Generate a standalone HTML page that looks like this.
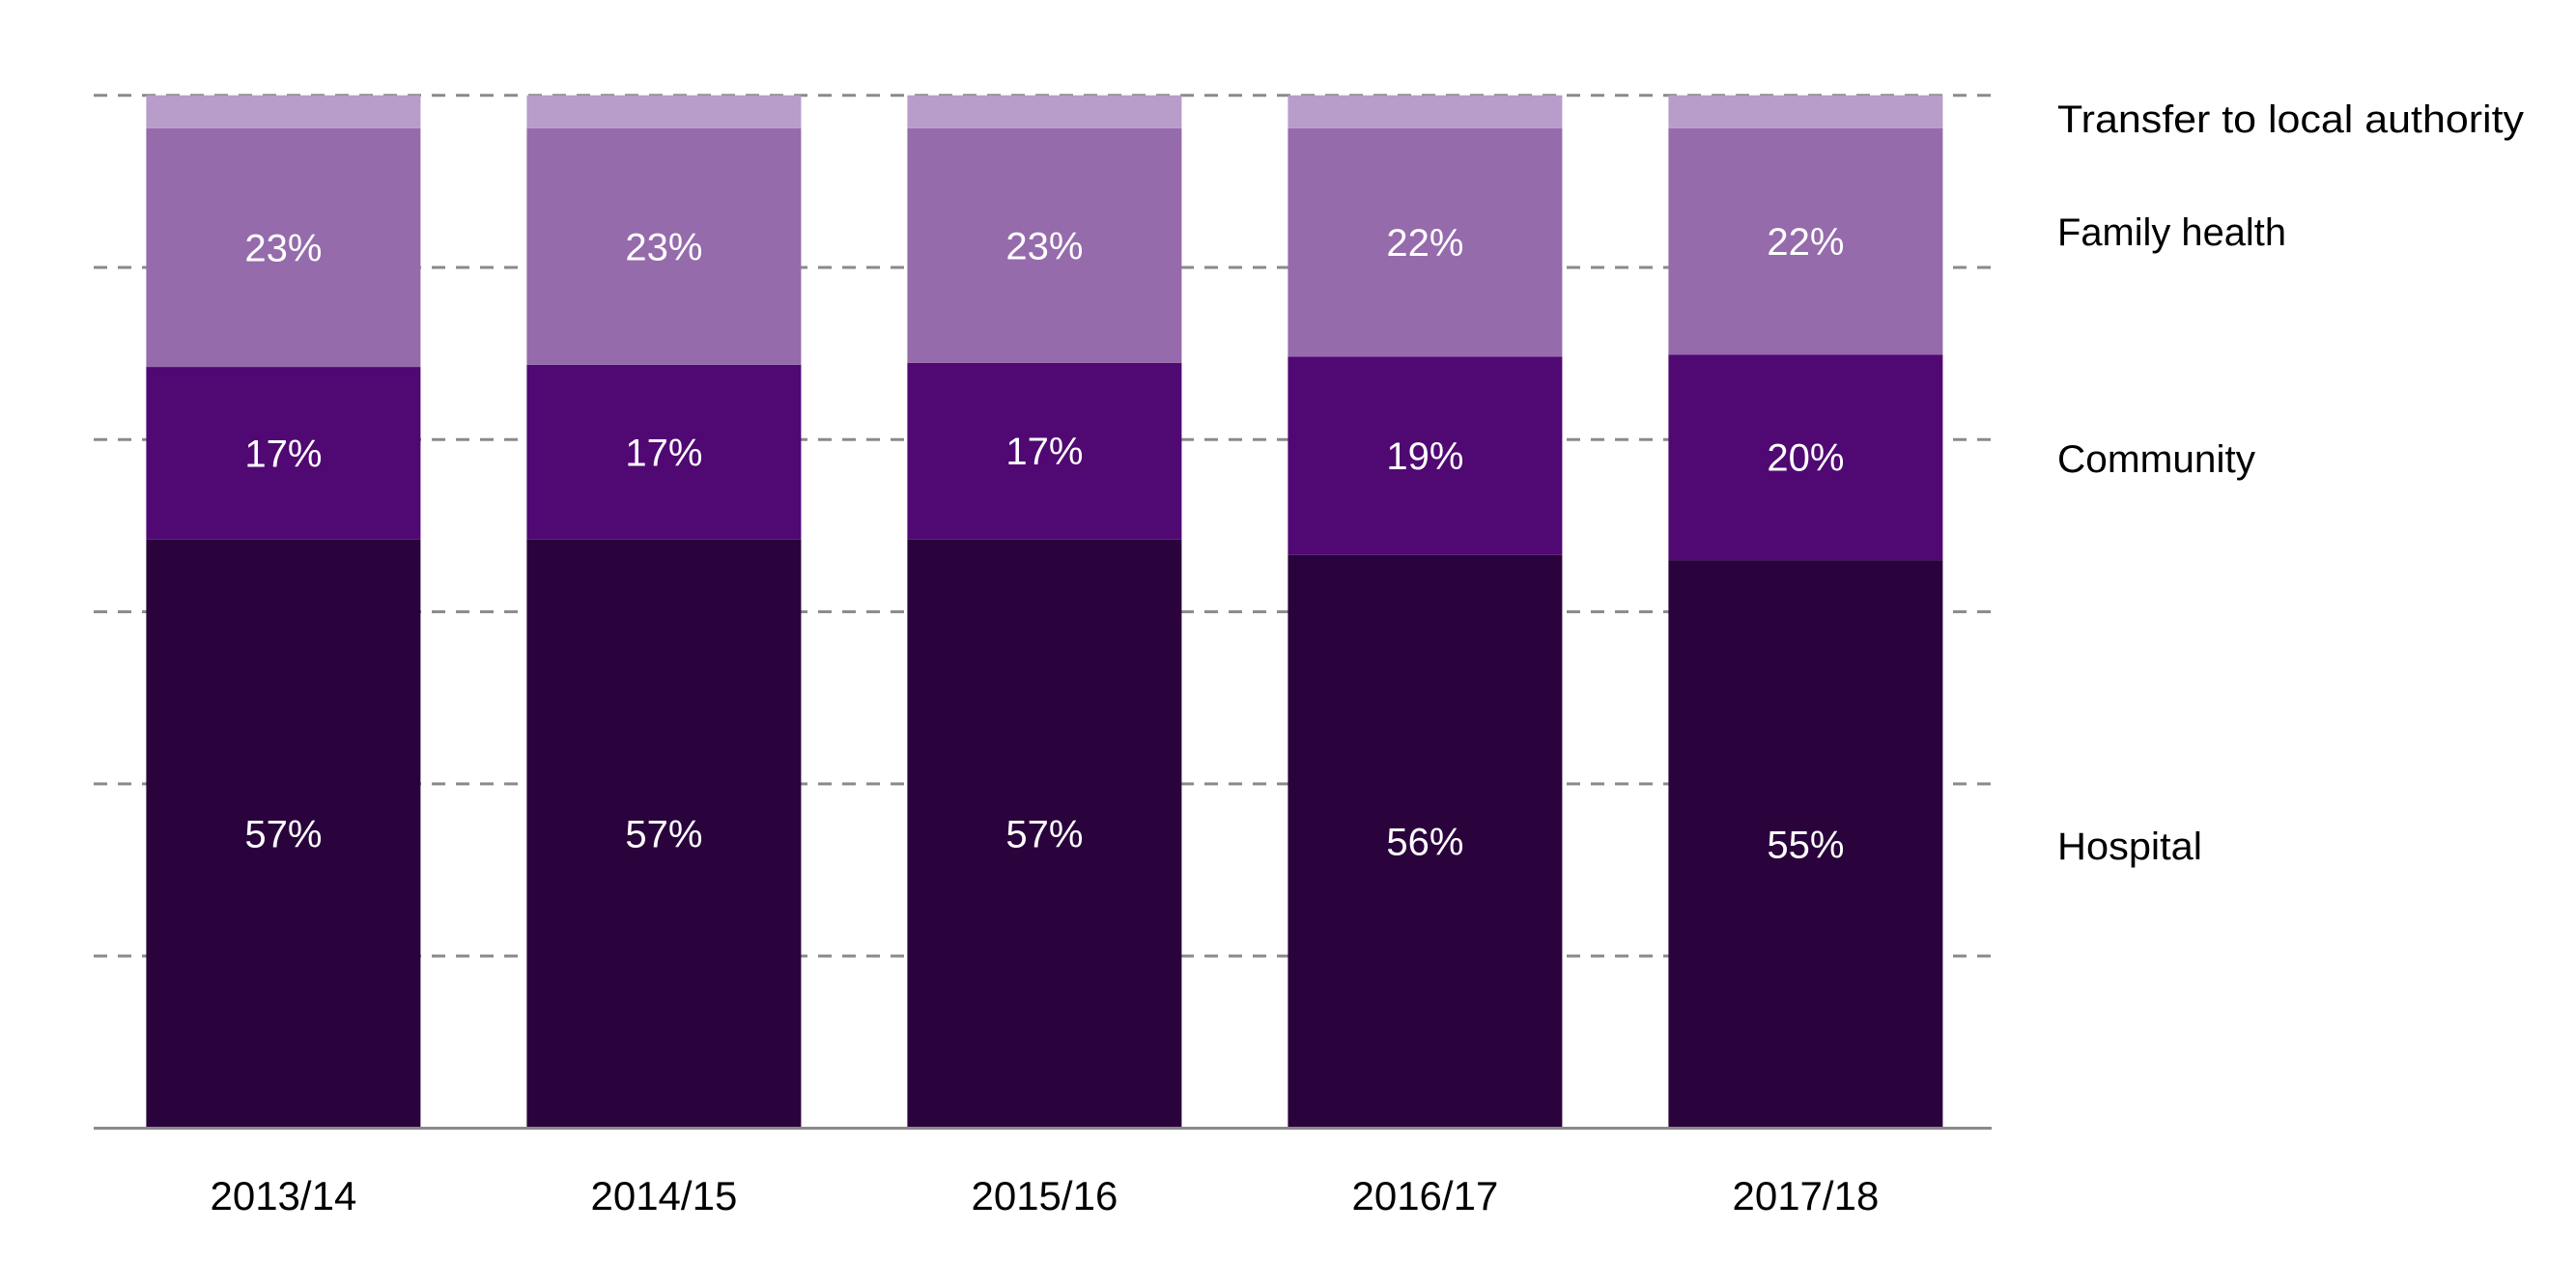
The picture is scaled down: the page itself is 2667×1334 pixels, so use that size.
<!DOCTYPE html>
<html><head><meta charset="utf-8"><style>
html,body{margin:0;padding:0;background:#fff;}
svg{display:block;font-family:"Liberation Sans",sans-serif;}
</style></head><body>
<svg id="chart" width="2667" height="1334" viewBox="0 0 2667 1334" xmlns="http://www.w3.org/2000/svg">
<g id="grid"></g>
<g id="bars"></g>
<line x1="97" x2="2062" y1="1168.5" y2="1168.5" stroke="#8a8a8a" stroke-width="3"/>
<g id="xlabels"></g>
<g id="legend"></g>
</svg>
<script>
const categories = ["2013/14","2014/15","2015/16","2016/17","2017/18"];
const hospital = [57, 57, 57, 55.5, 55.0];
const community = [16.7, 16.9, 17.1, 19.2, 19.9];
const familyHealth = [23.1, 22.9, 22.7, 22.1, 21.9];
const transfer = [3.2, 3.2, 3.2, 3.2, 3.2];
const hospitalLabels = ["57%","57%","57%","56%","55%"];
const communityLabels = ["17%","17%","17%","19%","20%"];
const familyLabels = ["23%","23%","23%","22%","22%"];
const gridTicks = [0, 16.67, 33.33, 50, 66.67, 83.33, 100];
const legendNames = ["Transfer to local authority","Family health","Community","Hospital"];

const NS = "http://www.w3.org/2000/svg";
const y0 = 1168.5, yTop = 98.7;
function y(v){ return y0 - (v/100)*(y0-yTop); }
const barW = 284, step = 394, firstX = 151.4;
function x(i){ return firstX + i*step; }

const grid = document.getElementById('grid');
gridTicks.forEach((t,i)=>{
  if(t===0) return;
  const l = document.createElementNS(NS,'line');
  
  
  l.setAttribute('x1',97); l.setAttribute('x2',2062);
  l.setAttribute('y1',y(t)); l.setAttribute('y2',y(t));
  l.setAttribute('stroke','#8a8a8a'); l.setAttribute('stroke-width',3);
  l.setAttribute('stroke-dasharray','14 11');
  grid.appendChild(l);
});

const series = [
  {vals:hospital, labels:hospitalLabels, color:'#2a033d', name:'hospital'},
  {vals:community, labels:communityLabels, color:'#500873', name:'community'},
  {vals:familyHealth, labels:familyLabels, color:'#956bac', name:'family-health'},
  {vals:transfer, labels:null, color:'#b89cca', name:'transfer'}
];
const bars = document.getElementById('bars');
categories.forEach((c,i)=>{
  let cum = 0;
  series.forEach(s=>{
    const v = s.vals[i];
    const top = y(cum+v), bot = y(cum);
    const r = document.createElementNS(NS,'rect');
    
    
    r.setAttribute('x',x(i)); r.setAttribute('y',top);
    r.setAttribute('width',barW); r.setAttribute('height',bot-top);
    r.setAttribute('fill',s.color);
    bars.appendChild(r);
    if(s.labels){
      const t = document.createElementNS(NS,'text');
      
      
      t.setAttribute('x',x(i)+barW/2); t.setAttribute('y',(top+bot)/2+14);
      t.setAttribute('text-anchor','middle'); t.setAttribute('fill','#fff');
      t.setAttribute('font-size','40');
      t.textContent = s.labels[i];
      bars.appendChild(t);
    }
    cum += v;
  });
  const xl = document.createElementNS(NS,'text');
  
  
  xl.setAttribute('x',x(i)+barW/2); xl.setAttribute('y',1253);
  xl.setAttribute('text-anchor','middle'); xl.setAttribute('fill','#000');
  xl.setAttribute('font-size','42');
  xl.textContent = c;
  document.getElementById('xlabels').appendChild(xl);
});

const legendY = [137, 254, 489, 890];
const lg = document.getElementById('legend');
legendNames.forEach((n,i)=>{
  const t = document.createElementNS(NS,'text');
  
  
  t.setAttribute('x',2130); t.setAttribute('y',legendY[i]);
  t.setAttribute('fill','#000'); t.setAttribute('font-size','40');
  t.setAttribute('textLength', i===0 ? 483 : (i===1 ? 237 : (i===2 ? 205 : 150)));
  t.setAttribute('lengthAdjust','spacingAndGlyphs');
  t.textContent = n;
  lg.appendChild(t);
});
</script>
</body></html>
